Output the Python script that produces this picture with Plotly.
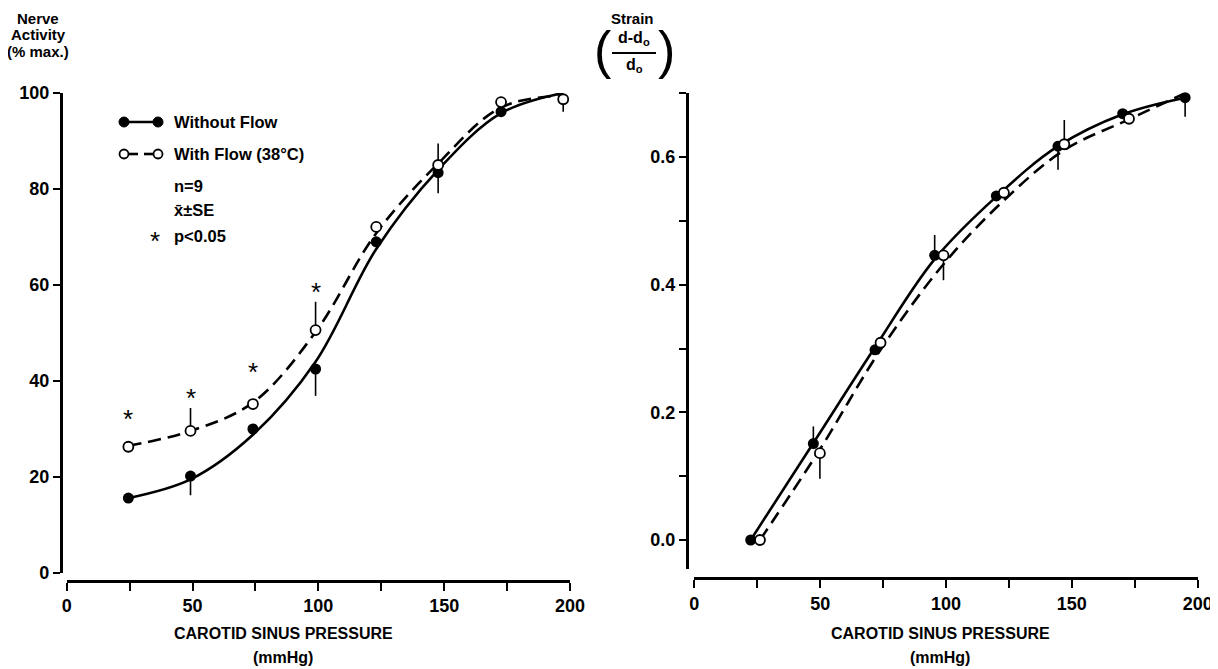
import plotly.graph_objects as go

W, H = 1218, 669
OFFSET = 8  # page body margin of the rendered html

# ---------------- Left panel: nerve activity ----------------
left_x = [24.5, 49.2, 74.0, 98.9, 123.0, 147.6, 172.6, 197.3]
nerve_without = [15.6, 20.2, 30.0, 42.5, 69.0, 83.4, 96.1, 100.3]
nerve_without_se_plus = [0, 0, 0, 0, 0, 0, 0, 0]
nerve_without_se_minus = [0, 4.0, 0, 5.6, 0, 4.3, 0, 0]
nerve_with = [26.3, 29.6, 35.2, 50.6, 72.1, 85.0, 98.1, 98.7]
nerve_with_se_plus = [0, 4.8, 0, 5.9, 0, 4.5, 0, 0]
nerve_with_se_minus = [0, 0, 0, 0, 0, 0, 0, 2.6]
nerve_without_fit = [15.6, 19.5, 28.8, 44.0, 67.5, 84.0, 95.8, 100.0]
nerve_with_fit = [26.5, 29.6, 35.5, 50.2, 70.8, 85.3, 97.0, 99.5]
star_x = [24.5, 49.2, 74.0, 98.9]
star_y = [32.0, 36.5, 41.8, 58.5]

# ---------------- Right panel: strain ----------------
right_x_without = [22.4, 47.3, 71.8, 95.5, 120.0, 144.5, 170.2, 195.0]
strain_without = [0.0, 0.151, 0.298, 0.446, 0.539, 0.617, 0.668, 0.693]
strain_without_se_plus = [0, 0.027, 0, 0.032, 0, 0, 0, 0]
strain_without_se_minus = [0, 0, 0, 0, 0, 0.037, 0, 0.030]
right_x_with = [26.1, 49.9, 74.0, 99.0, 123.0, 147.0, 172.7, 197.2]
strain_with = [0.0, 0.136, 0.309, 0.446, 0.544, 0.620, 0.660, 0.704]
strain_with_se_plus = [0, 0, 0, 0, 0, 0.038, 0, 0.040]
strain_with_se_minus = [0, 0.040, 0, 0.039, 0, 0, 0, 0]
strain_without_fit = [0.0, 0.152, 0.302, 0.440, 0.538, 0.617, 0.667, 0.693]
strain_with_fit = [0.0, 0.142, 0.298, 0.432, 0.532, 0.611, 0.659, 0.704]

x_ticks = [0, 25, 50, 75, 100, 125, 150, 175, 200]
x_ticktext = ["0", "", "50", "", "100", "", "150", "", "200"]
nerve_ticks = [0, 20, 40, 60, 80, 100]
strain_ticks = [0.0, 0.1, 0.2, 0.3, 0.4, 0.5, 0.6, 0.7]
strain_ticktext = ["0.0", "", "0.2", "", "0.4", "", "0.6", ""]

FONT = "Liberation Sans, Arial, Helvetica, sans-serif"
LW = 2.6


def px(x):
    return (x - OFFSET) / W


def py(y):
    return 1 - (y - OFFSET) / H


fig = go.Figure()


def add_panel(xa, ya, xf, yf_fit, xo, yo_fit, xfill, yfill, ep_f, em_f, yopen, ep_o, em_o, xopen):
    fig.add_trace(go.Scatter(x=xf, y=yf_fit, mode="lines", xaxis=xa, yaxis=ya,
                             line=dict(color="black", width=LW, shape="spline", smoothing=1.0),
                             showlegend=False, hoverinfo="skip"))
    fig.add_trace(go.Scatter(x=xo, y=yo_fit, mode="lines", xaxis=xa, yaxis=ya,
                             line=dict(color="black", width=LW, shape="spline", smoothing=1.0,
                                       dash="13px,7px"),
                             showlegend=False, hoverinfo="skip"))
    fig.add_trace(go.Scatter(x=xfill, y=yfill, mode="markers", xaxis=xa, yaxis=ya,
                             marker=dict(symbol="circle", size=11, color="black"),
                             error_y=dict(type="data", symmetric=False, array=ep_f, arrayminus=em_f,
                                          color="black", thickness=1.6, width=0),
                             cliponaxis=False, showlegend=False))
    fig.add_trace(go.Scatter(x=xopen, y=yopen, mode="markers", xaxis=xa, yaxis=ya,
                             marker=dict(symbol="circle", size=10, color="white",
                                         line=dict(color="black", width=1.8)),
                             error_y=dict(type="data", symmetric=False, array=ep_o, arrayminus=em_o,
                                          color="black", thickness=1.6, width=0),
                             cliponaxis=False, showlegend=False))


add_panel("x", "y", left_x, nerve_without_fit, left_x, nerve_with_fit,
          left_x, nerve_without, nerve_without_se_plus, nerve_without_se_minus,
          nerve_with, nerve_with_se_plus, nerve_with_se_minus, left_x)
add_panel("x2", "y2", right_x_without, strain_without_fit, right_x_with, strain_with_fit,
          right_x_without, strain_without, strain_without_se_plus, strain_without_se_minus,
          strain_with, strain_with_se_plus, strain_with_se_minus, right_x_with)

tickfont = dict(family=FONT, size=18, color="black", weight="bold")
axis_common = dict(showgrid=False, zeroline=False, showline=True, linecolor="black",
                   linewidth=LW, ticks="outside", tickcolor="black", tickwidth=2,
                   ticklen=8, tickfont=tickfont, fixedrange=True, automargin=False)

fig.update_layout(
    width=W, height=H,
    margin=dict(l=0, r=0, t=0, b=0, pad=0, autoexpand=False),
    paper_bgcolor="white", plot_bgcolor="white",
    xaxis=dict(axis_common, domain=[px(66.7), px(570)], range=[0, 200], anchor="free",
               position=py(580.7), tickvals=x_ticks, ticktext=x_ticktext),
    yaxis=dict(axis_common, domain=[py(573), py(93)], range=[0, 100], anchor="free",
               position=px(60.7), tickvals=nerve_ticks, ticklen=7),
    xaxis2=dict(axis_common, domain=[px(694.3), px(1197.7)], range=[0, 200], anchor="free",
                position=py(578.3), tickvals=x_ticks, ticktext=x_ticktext),
    yaxis2=dict(axis_common, domain=[py(569.3), py(93.2)], range=[-0.0459, 0.7], anchor="free",
                position=px(686.7), tickvals=strain_ticks, ticktext=strain_ticktext, ticklen=7),
    showlegend=False,
)

ann = []


def text(x, y, t, size=14, bold=True, xanchor="center", family=FONT):
    ann.append(dict(x=px(x), y=py(y), xref="paper", yref="paper", text=t, showarrow=False,
                    xanchor=xanchor, yanchor="middle",
                    font=dict(family=family, size=size, color="black",
                              weight="bold" if bold else "normal")))


# axis titles
for cx in (283, 940):
    text(cx, 633, "CAROTID SINUS PRESSURE", size=16)
    text(cx, 657, "(mmHg)", size=16)

text(38, 18, "Nerve", size=15)
text(38, 34, "Activity", size=15)
text(38, 51, "(% max.)", size=15)

text(632, 18, "Strain", size=15)
text(634, 39, "d-d<sub>o</sub>", size=16)
text(634, 66, "d<sub>o</sub>", size=16)
text(603, 50, "(", size=52, bold=False)
text(667, 50, ")", size=52, bold=False)

# legend text
text(172, 122, "Without Flow", size=16.5, xanchor="left")
text(172, 154, "With Flow (38°C)", size=16.5, xanchor="left")
text(172, 186, "n=9", size=16.5, xanchor="left")
text(172, 210, "x\u0304\u00b1SE", size=16.5, xanchor="left")
text(172, 236, "p<0.05", size=16.5, xanchor="left")
text(155, 241, "*", size=26, bold=False)

# significance asterisks
for sx, sy in zip(star_x, star_y):
    ann.append(dict(x=sx, y=sy, xref="x", yref="y", text="*", showarrow=False,
                    yanchor="middle", font=dict(family=FONT, size=26, color="black")))

fig.update_layout(annotations=ann)

# legend keys and fraction bar (decorative shapes)
shapes = [
    dict(type="line", xref="paper", yref="paper", x0=px(124), x1=px(157), y0=py(122), y1=py(122),
         line=dict(color="black", width=LW)),
    dict(type="circle", xref="paper", yref="paper", x0=px(119), x1=px(129), y0=py(127), y1=py(117),
         fillcolor="black", line=dict(color="black", width=1)),
    dict(type="circle", xref="paper", yref="paper", x0=px(153), x1=px(163), y0=py(127), y1=py(117),
         fillcolor="black", line=dict(color="black", width=1)),
    dict(type="line", xref="paper", yref="paper", x0=px(129), x1=px(138), y0=py(154), y1=py(154),
         line=dict(color="black", width=LW)),
    dict(type="line", xref="paper", yref="paper", x0=px(144), x1=px(154), y0=py(154), y1=py(154),
         line=dict(color="black", width=LW)),
    dict(type="circle", xref="paper", yref="paper", x0=px(119.5), x1=px(128.5), y0=py(158.5), y1=py(149.5),
         fillcolor="white", line=dict(color="black", width=1.8)),
    dict(type="circle", xref="paper", yref="paper", x0=px(153.5), x1=px(162.5), y0=py(158.5), y1=py(149.5),
         fillcolor="white", line=dict(color="black", width=1.8)),
    dict(type="line", xref="paper", yref="paper", x0=px(612), x1=px(656), y0=py(53), y1=py(53),
         line=dict(color="black", width=2)),
]
fig.update_layout(shapes=shapes)

fig.write_html("out.html")
